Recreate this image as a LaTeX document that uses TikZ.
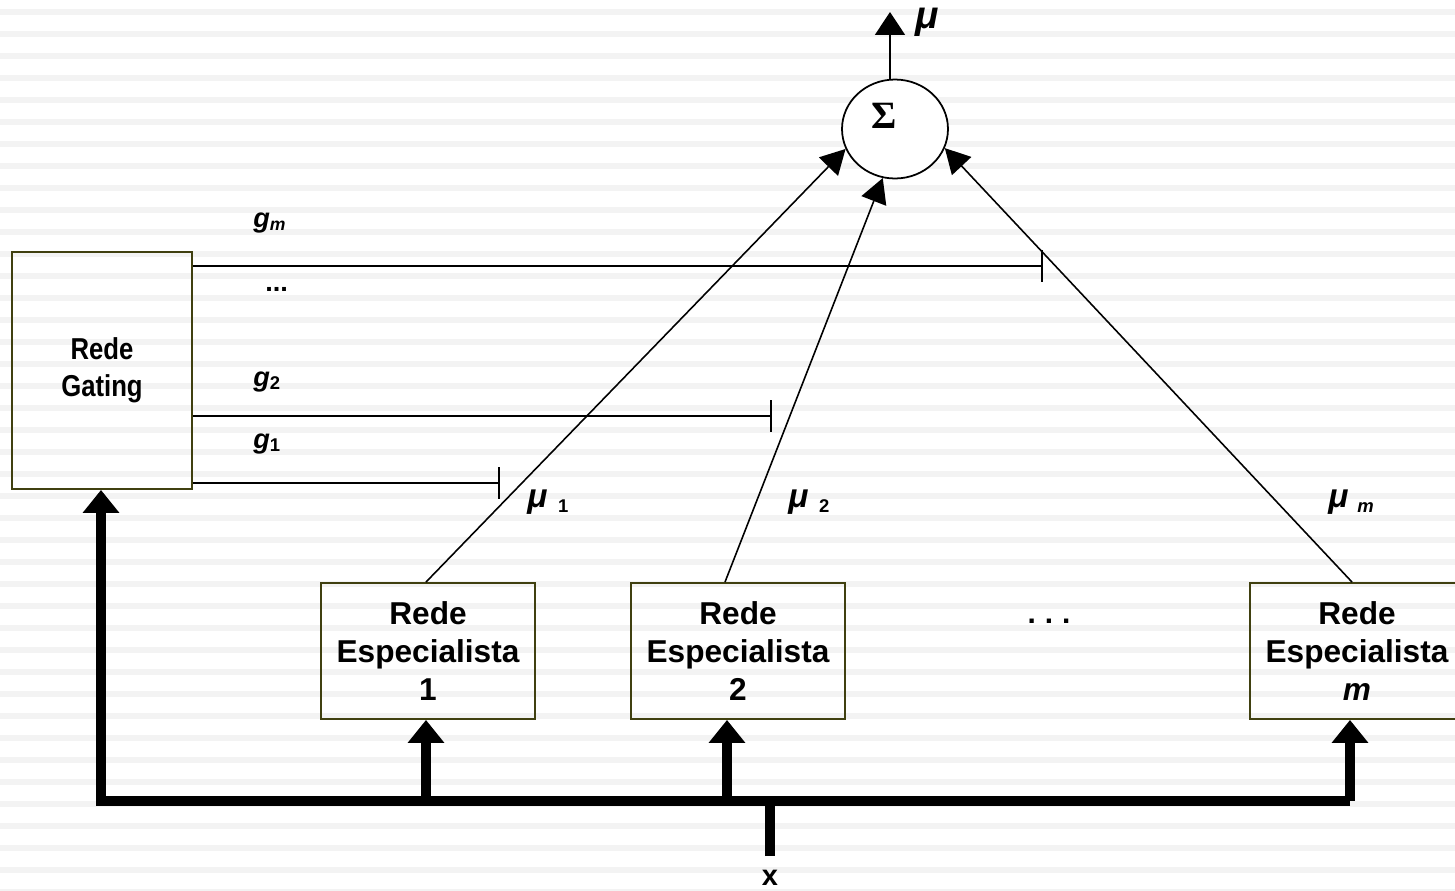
\documentclass[tikz,border=0pt]{standalone}
\usepackage{graphicx}
\usepackage{fontspec}
\setmainfont{Liberation Sans}
\newfontfamily\serifb{Liberation Serif}
\usetikzlibrary{arrows.meta,shapes.geometric}
\definecolor{stripe}{HTML}{F3F3F3}
\definecolor{olive}{HTML}{404010}
\newcommand\narrowtxt[1]{\scalebox{0.85}[1]{#1}}
\begin{document}
\begin{tikzpicture}[x=0.02cm,y=-0.02cm,
  box/.style={draw=olive,line width=1.1pt,inner sep=0pt,align=center,
    font=\fontsize{18}{21.8}\selectfont\bfseries},
  gbox/.style={draw=olive,line width=1.1pt,inner sep=0pt,align=center,
    font=\fontsize{17.2}{21}\selectfont\bfseries},
  thinline/.style={line width=0.9pt},
  tarrow/.style={thinline,-{Triangle[length=14pt,width=15pt]}},
  barline/.style={thinline,-{Bar[width=18pt,line width=0.9pt]}},
  bus/.style={line width=6.2pt},
  busarrow/.style={bus,-{Triangle[length=13pt,width=20pt]}},
  lab/.style={inner sep=0pt,font=\fontsize{15.5}{18}\selectfont\bfseries\itshape},
  mulab/.style={inner sep=0pt,font=\fontsize{19}{20}\selectfont\bfseries\itshape}]
\useasboundingbox (0,0) rectangle (1455,890);
% background stripes
\foreach \k in {0,...,40}
  \fill[stripe] (0,9+22*\k) rectangle (1455,15+22*\k);

% summation node
\node[draw,ellipse,fill=white,line width=1pt,minimum width=2.12cm,minimum height=1.98cm,inner sep=0pt] (sum) at (895,129) {};
\node[anchor=base,inner sep=0pt,font=\fontsize{22}{24}\selectfont\serifb\bfseries] (sig) at (884,128) {Σ};
\coordinate (out) at (890,12);
\draw[tarrow,-{Triangle[length=13pt,width=17pt]}] (sum.north -| out) -- (out);
\node[mulab,anchor=base west,font=\fontsize{22}{24}\selectfont\bfseries\itshape] (mu) at (915,28) {μ};

% gating network
\node[gbox,minimum width=3.6cm,minimum height=4.74cm] (gate) at (102,370.5) {\narrowtxt{Rede}\\\narrowtxt{Gating}};

% expert networks
\node[box,minimum width=4.28cm,minimum height=2.72cm] (e1) at (428,651) {Rede\\Especialista\\1};
\node[box,minimum width=4.28cm,minimum height=2.72cm] (e2) at (738,651) {Rede\\Especialista\\2};
\node[box,minimum width=4.28cm,minimum height=2.72cm] (em) at (1357,651) {Rede\\Especialista\\{\itshape m}};
\node[anchor=base,inner sep=0pt,font=\fontsize{17}{20}\selectfont\bfseries] (dots) at (1049,623) {.\hspace{0.3em}.\hspace{0.3em}.};

% gating outputs
\coordinate (tm) at (1043,266);
\coordinate (t2) at (772,416);
\coordinate (t1) at (500,483);
\draw[barline] (gate.east |- tm) -- (tm);
\draw[barline] (gate.east |- t2) -- (t2);
\draw[barline] (gate.east |- t1) -- (t1);
\node[lab,anchor=base west] (gm) at (253,227) {g\raisebox{-2pt}{\fontsize{10}{12}\selectfont m}};
\node[lab,anchor=base west,font=\fontsize{15.5}{18}\selectfont\bfseries] (gdots) at (265,291) {...};
\node[lab,anchor=base west] (g2) at (253,386) {g\raisebox{-2pt}{\fontsize{10.5}{12}\selectfont\upshape 2}};
\node[lab,anchor=base west] (g1) at (253,448) {g\raisebox{-2pt}{\fontsize{10.5}{12}\selectfont\upshape 1}};

% expert outputs to summation
\draw[tarrow] (e1.north -| 426,0) -- (sum.202);
\draw[tarrow] (e2.north -| 725,0) -- (sum.256);
\draw[tarrow] (em.north -| 1352,0) -- (sum.339);
\node[mulab,anchor=base west] (mu1) at (527,507) {μ\hspace{6pt}\raisebox{-3pt}{\fontsize{10.5}{12}\selectfont\upshape 1}};
\node[mulab,anchor=base west] (mu2) at (788,507) {μ\hspace{6pt}\raisebox{-3pt}{\fontsize{10.5}{12}\selectfont\upshape 2}};
\node[mulab,anchor=base west] (mum) at (1328,507) {μ\hspace{5pt}\raisebox{-3pt}{\fontsize{10.5}{12}\selectfont m}};

% input bus
\coordinate (busL) at (101,801);
\coordinate (busR) at (1350,801);
\coordinate (xin) at (770,856);
\draw[bus,-{Triangle[length=13pt,width=20pt]}] (busR) -- (busL) -- (gate.south -| busL);
\draw[busarrow] (426,801) -- (e1.south -| 426,0);
\draw[busarrow] (727,801) -- (e2.south -| 727,0);
\draw[busarrow] (busR) -- (em.south -| busR);
\draw[bus] (xin) -- (xin |- busL);
\node[anchor=base,inner sep=0pt,font=\fontsize{16.5}{18}\selectfont\bfseries] (xl) at (770,885) {x};
\end{tikzpicture}
\end{document}
